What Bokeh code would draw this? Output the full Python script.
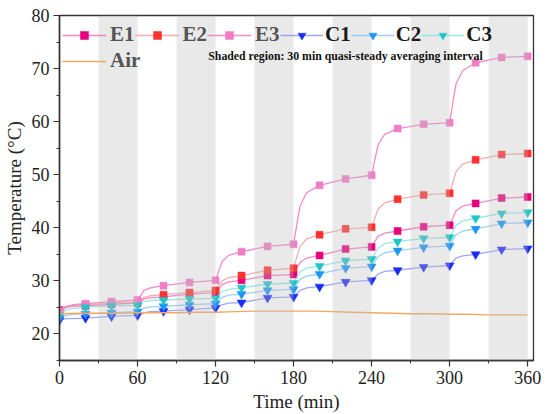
from bokeh.plotting import figure
from bokeh.models import Legend, LegendItem, BoxAnnotation, FixedTicker, Range1d, Label
from bokeh.embed import file_html
from bokeh.resources import INLINE

# ---------------- data ----------------
marker_time = [0, 20, 40, 60, 80, 100, 120, 140, 160, 180, 200, 220, 240, 260, 280, 300, 320, 340, 360]
line_time = [0, 2, 5, 10, 20, 40, 60,
             62, 65, 70, 80, 100, 120,
             122, 125, 130, 140, 160, 180,
             182, 185, 190, 200, 220, 240,
             242, 245, 250, 260, 280, 300,
             302, 305, 310, 320, 340, 360]

e1_marker = [24.5, 25.3, 25.6, 25.8, 27.0, 27.5, 27.8, 30.1, 31.0, 31.2, 34.8, 36.0, 36.4, 39.4, 40.2, 40.5, 44.6, 45.6, 45.8]
e1_line = [24.5, 24.7, 25.0, 25.2, 25.3, 25.6, 25.8,
           26.1, 26.6, 26.8, 27.0, 27.5, 27.8,
           28.4, 29.3, 29.8, 30.1, 31.0, 31.2,
           32.2, 33.5, 34.3, 34.8, 36.0, 36.4,
           37.2, 38.4, 39.0, 39.4, 40.2, 40.5,
           41.6, 43.2, 44.1, 44.6, 45.6, 45.8]

e2_marker = [24.0, 25.5, 25.8, 26.0, 27.4, 27.8, 28.2, 31.0, 32.0, 32.4, 38.7, 39.8, 40.1, 45.4, 46.2, 46.5, 52.8, 53.8, 54.0]
e2_line = [24.0, 24.4, 25.0, 25.3, 25.5, 25.8, 26.0,
           26.4, 26.9, 27.2, 27.4, 27.8, 28.2,
           29.0, 30.0, 30.6, 31.0, 32.0, 32.4,
           34.1, 36.5, 37.9, 38.7, 39.8, 40.1,
           41.5, 43.5, 44.7, 45.4, 46.2, 46.5,
           48.2, 50.6, 52.0, 52.8, 53.8, 54.0]

e3_marker = [24.3, 25.7, 26.1, 26.4, 29.1, 29.7, 30.1, 35.5, 36.5, 36.9, 48.0, 49.2, 49.9, 58.7, 59.5, 59.8, 71.1, 72.1, 72.3]
e3_line = [24.3, 24.7, 25.2, 25.5, 25.7, 26.1, 26.4,
           27.1, 28.2, 28.7, 29.1, 29.7, 30.1,
           31.6, 33.6, 34.8, 35.5, 36.5, 36.9,
           39.9, 44.1, 46.6, 48.0, 49.2, 49.9,
           52.3, 55.6, 57.6, 58.7, 59.5, 59.8,
           62.9, 67.2, 69.6, 71.1, 72.1, 72.3]

c1_marker = [22.6, 23.0, 23.3, 23.5, 24.3, 24.6, 24.9, 25.9, 26.8, 27.0, 28.9, 29.8, 30.1, 32.0, 32.6, 32.9, 35.0, 35.9, 36.1]
c1_line = [22.6, 22.7, 22.9, 22.9, 23.0, 23.3, 23.5,
           23.7, 24.0, 24.2, 24.3, 24.6, 24.9,
           25.2, 25.5, 25.8, 25.9, 26.8, 27.0,
           27.5, 28.2, 28.7, 28.9, 29.8, 30.1,
           30.6, 31.3, 31.8, 32.0, 32.6, 32.9,
           33.5, 34.3, 34.7, 35.0, 35.9, 36.1]

c2_marker = [23.0, 23.8, 24.0, 24.2, 25.2, 25.5, 25.7, 27.5, 28.2, 28.4, 31.3, 32.4, 32.7, 35.7, 36.3, 36.6, 39.8, 40.8, 41.0]
c2_line = [23.0, 23.2, 23.5, 23.7, 23.8, 24.0, 24.2,
           24.5, 24.9, 25.1, 25.2, 25.5, 25.7,
           26.2, 26.9, 27.3, 27.5, 28.2, 28.4,
           29.2, 30.3, 30.9, 31.3, 32.4, 32.7,
           33.5, 34.6, 35.3, 35.7, 36.3, 36.6,
           37.5, 38.7, 39.4, 39.8, 40.8, 41.0]

c3_marker = [23.5, 25.0, 25.3, 25.4, 26.4, 26.6, 26.7, 28.7, 29.4, 29.6, 32.8, 33.8, 34.1, 37.4, 38.0, 38.2, 41.8, 42.7, 42.9]
c3_line = [23.5, 23.9, 24.5, 24.8, 25.0, 25.3, 25.4,
           25.7, 26.1, 26.3, 26.4, 26.6, 26.7,
           27.2, 28.0, 28.4, 28.7, 29.4, 29.6,
           30.5, 31.7, 32.4, 32.8, 33.8, 34.1,
           35.0, 36.2, 37.0, 37.4, 38.0, 38.2,
           39.2, 40.5, 41.3, 41.8, 42.7, 42.9]

air_time = [0, 15, 30, 45, 60, 75, 90, 105, 120, 135, 150, 165, 180, 195, 210, 225, 240, 255, 270, 285, 300, 315, 330, 345, 360]
air_values = [23.8, 23.9, 23.9, 23.9, 24.0, 24.0, 24.0, 24.1, 24.1, 24.2, 24.3, 24.3, 24.3, 24.3, 24.2, 24.1, 24.0, 23.9, 23.8, 23.8, 23.7, 23.7, 23.6, 23.6, 23.6]

shade_start = [30, 90, 150, 210, 270, 330]
shade_end = [60, 120, 180, 240, 300, 360]

x_ticks = [0, 60, 120, 180, 240, 300, 360]
x_minor = [30, 90, 150, 210, 270, 330]
y_ticks = [20, 30, 40, 50, 60, 70, 80]
y_minor = [15, 25, 35, 45, 55, 65, 75]

note_text = "Shaded region: 30 min quasi-steady averaging interval"

# ---------------- figure ----------------
SERIF = "Liberation Serif"

p = figure(width=550, height=414, output_backend="svg", toolbar_location=None,
           x_range=Range1d(0, 364.5), y_range=Range1d(15, 80),
           min_border_left=59, min_border_right=17, min_border_top=15, min_border_bottom=54)
p.background_fill_color = "white"
p.border_fill_color = "white"
p.outline_line_color = "#333333"
p.outline_line_width = 1.3
p.xgrid.visible = False
p.ygrid.visible = False

series = [
    ("E1", e1_line, e1_marker, "square", 7, "#ee6bb4", "#e8007c", 0.8),
    ("E2", e2_line, e2_marker, "square", 7, "#f29a9a", "#ff3030", 0.8),
    ("E3", e3_line, e3_marker, "square", 7, "#f07ec6", "#f27cc6", 0.9),
    ("C1", c1_line, c1_marker, "inverted_triangle", 9, "#8a90f0", "#1a2cf5", 0.8),
    ("C2", c2_line, c2_marker, "inverted_triangle", 9, "#86c4f2", "#1c94f8", 0.8),
    ("C3", c3_line, c3_marker, "inverted_triangle", 9, "#86dede", "#1fc6c8", 0.8),
]

items = {}
for name, lvals, mvals, marker, size, lcol, mcol, lalpha in series:
    lr = p.line(line_time, lvals, line_color=lcol, line_width=1.3, line_alpha=lalpha)
    mr = p.scatter(marker_time, mvals, marker=marker, size=size,
                   fill_color=mcol, line_color=mcol, line_width=0.5)
    items[name] = [lr, mr]

air_r = p.line(air_time, air_values, line_color="#f3a862", line_width=1.4)
items["Air"] = [air_r]

# shaded averaging intervals
for s, e in zip(shade_start, shade_end):
    p.add_layout(BoxAnnotation(left=s, right=e, fill_color="#bdbdbd", fill_alpha=0.33,
                               line_color=None, line_alpha=0))

# axes
for ax in (p.xaxis[0], p.yaxis[0]):
    ax.axis_line_color = "#333333"
    ax.axis_line_width = 1.5
    ax.major_tick_line_color = "#333333"
    ax.minor_tick_line_color = "#333333"
    ax.major_tick_line_width = 1.2
    ax.minor_tick_line_width = 1.0
    ax.major_tick_in = 0
    ax.major_tick_out = 6
    ax.minor_tick_in = 0
    ax.minor_tick_out = 3
    ax.major_label_text_font = SERIF
    ax.major_label_text_font_size = "18px"
    ax.major_label_text_color = "#222222"
    ax.axis_label_text_font = SERIF
    ax.axis_label_text_font_size = "19px"
    ax.axis_label_text_font_style = "normal"
    ax.axis_label_text_color = "#222222"

p.xaxis.ticker = FixedTicker(ticks=x_ticks, minor_ticks=x_minor)
p.yaxis.ticker = FixedTicker(ticks=y_ticks, minor_ticks=y_minor)
p.xaxis.axis_label = "Time (min)"
p.yaxis.axis_label = "Temperature (°C)"
p.xaxis.major_label_standoff = 4
p.xaxis.axis_label_standoff = 4
p.yaxis.major_label_standoff = 4
p.yaxis.axis_label_standoff = 4

# legends
common = dict(orientation="horizontal", glyph_height=20,
              spacing=0, padding=0, margin=0, border_line_color=None,
              background_fill_alpha=0, label_text_font=SERIF,
              label_text_font_style="bold", label_text_font_size="21px",
              label_height=20, label_width=20)

leg_e = Legend(items=[LegendItem(label=n, renderers=items[n]) for n in ("E1", "E2", "E3")],
               location=(3, 313), glyph_width=44, label_standoff=4,
               label_text_color="#555555", **common)
leg_c = Legend(items=[LegendItem(label=n, renderers=items[n]) for n in ("C1", "C2", "C3")],
               location=(221, 313), glyph_width=43, label_standoff=2,
               label_text_color="#1a1a1a", **common)
leg_a = Legend(items=[LegendItem(label="Air", renderers=items["Air"])],
               location=(3, 287), glyph_width=44, label_standoff=4,
               label_text_color="#555555", **common)
for lg in (leg_e, leg_c, leg_a):
    p.add_layout(lg)

p.add_layout(Label(x=114.4, y=72.3, text=note_text, text_font=SERIF, text_font_size="11.8px",
                   text_font_style="bold", text_color="#111111", text_baseline="middle"))

open("out.html", "w").write(file_html(p, INLINE))
